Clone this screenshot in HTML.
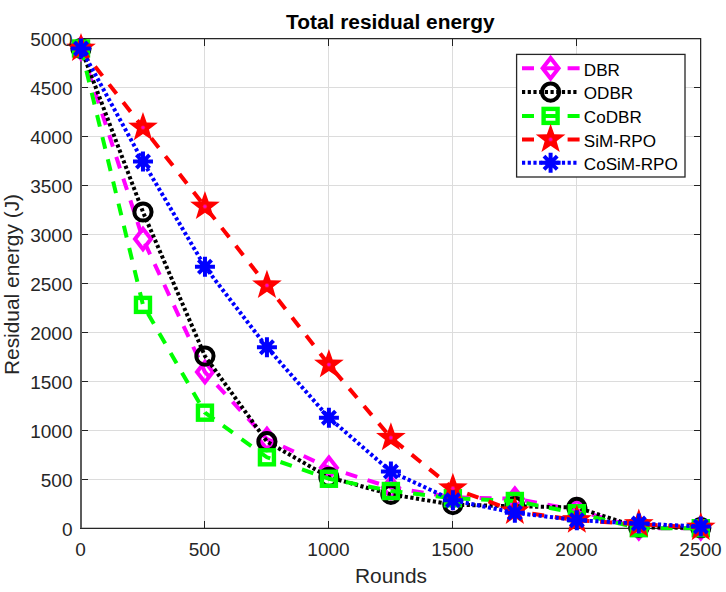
<!DOCTYPE html><html><head><meta charset="utf-8"><style>html,body{margin:0;padding:0;background:#fff;width:726px;height:592px;overflow:hidden}svg{display:block}</style></head><body>
<svg width="726" height="592" viewBox="0 0 726 592" font-family='"Liberation Sans", sans-serif'>
<rect width="726" height="592" fill="#fff"/>
<path d="M204.5 39V528M328.5 39V528M452.5 39V528M576.5 39V528M82 479.5H700M82 430.5H700M82 381.5H700M82 332.5H700M82 283.5H700M82 234.5H700M82 185.5H700M82 136.5H700M82 87.5H700" stroke="#dcdcdc" stroke-width="1" fill="none"/>
<rect x="80" y="38" width="2" height="491" fill="#5c5c5c"/>
<rect x="80" y="38" width="622" height="1" fill="#262626"/>
<rect x="82" y="39" width="618" height="1" fill="#c4c4c4"/>
<rect x="80" y="528" width="622" height="1" fill="#262626"/>
<rect x="82" y="527" width="618" height="1" fill="#c4c4c4"/>
<rect x="700" y="38" width="1" height="491" fill="#262626"/>
<rect x="701" y="38" width="1" height="491" fill="#c4c4c4"/>
<path d="M204.5 528v-7M204.5 39v7M328.5 528v-7M328.5 39v7M452.5 528v-7M452.5 39v7M576.5 528v-7M576.5 39v7M82 479.5h6M700 479.5h-6M82 430.5h6M700 430.5h-6M82 381.5h6M700 381.5h-6M82 332.5h6M700 332.5h-6M82 283.5h6M700 283.5h-6M82 234.5h6M700 234.5h-6M82 185.5h6M700 185.5h-6M82 136.5h6M700 136.5h-6M82 87.5h6M700 87.5h-6" stroke="#222" stroke-width="1" fill="none"/>
<polyline points="81.00,48.49 142.98,239.00 204.96,372.05 266.94,439.01 328.92,467.80 390.90,487.57 452.88,497.26 514.86,498.73 576.84,510.09 638.82,528.20 700.80,528.20" fill="none" stroke="#ff00ff" stroke-width="4.0" stroke-dasharray="12 10.8"/>
<path d="M73.00 48.49L81.00 38.19L89.00 48.49L81.00 58.79Z" fill="none" stroke="#ff00ff" stroke-width="4.0"/>
<path d="M134.98 239.00L142.98 228.70L150.98 239.00L142.98 249.30Z" fill="none" stroke="#ff00ff" stroke-width="4.0"/>
<path d="M196.96 372.05L204.96 361.75L212.96 372.05L204.96 382.35Z" fill="none" stroke="#ff00ff" stroke-width="4.0"/>
<path d="M258.94 439.01L266.94 428.71L274.94 439.01L266.94 449.31Z" fill="none" stroke="#ff00ff" stroke-width="4.0"/>
<path d="M320.92 467.80L328.92 457.50L336.92 467.80L328.92 478.10Z" fill="none" stroke="#ff00ff" stroke-width="4.0"/>
<path d="M382.90 487.57L390.90 477.27L398.90 487.57L390.90 497.87Z" fill="none" stroke="#ff00ff" stroke-width="4.0"/>
<path d="M444.88 497.26L452.88 486.96L460.88 497.26L452.88 507.56Z" fill="none" stroke="#ff00ff" stroke-width="4.0"/>
<path d="M506.86 498.73L514.86 488.43L522.86 498.73L514.86 509.03Z" fill="none" stroke="#ff00ff" stroke-width="4.0"/>
<path d="M568.84 510.09L576.84 499.79L584.84 510.09L576.84 520.39Z" fill="none" stroke="#ff00ff" stroke-width="4.0"/>
<path d="M630.82 528.20L638.82 517.90L646.82 528.20L638.82 538.50Z" fill="none" stroke="#ff00ff" stroke-width="4.0"/>
<path d="M692.80 528.20L700.80 517.90L708.80 528.20L700.80 538.50Z" fill="none" stroke="#ff00ff" stroke-width="4.0"/>
<polyline points="81.00,48.49 142.98,211.98 204.96,356.09 266.94,441.56 328.92,477.29 390.90,494.33 452.88,504.61 514.86,506.27 576.84,507.45 638.82,527.51 700.80,527.71" fill="none" stroke="#000000" stroke-width="4.0" stroke-dasharray="3.2 2.5"/>
<circle cx="81.00" cy="48.49" r="8.6" fill="none" stroke="#000000" stroke-width="4.0"/>
<circle cx="142.98" cy="211.98" r="8.6" fill="none" stroke="#000000" stroke-width="4.0"/>
<circle cx="204.96" cy="356.09" r="8.6" fill="none" stroke="#000000" stroke-width="4.0"/>
<circle cx="266.94" cy="441.56" r="8.6" fill="none" stroke="#000000" stroke-width="4.0"/>
<circle cx="328.92" cy="477.29" r="8.6" fill="none" stroke="#000000" stroke-width="4.0"/>
<circle cx="390.90" cy="494.33" r="8.6" fill="none" stroke="#000000" stroke-width="4.0"/>
<circle cx="452.88" cy="504.61" r="8.6" fill="none" stroke="#000000" stroke-width="4.0"/>
<circle cx="514.86" cy="506.27" r="8.6" fill="none" stroke="#000000" stroke-width="4.0"/>
<circle cx="576.84" cy="507.45" r="8.6" fill="none" stroke="#000000" stroke-width="4.0"/>
<circle cx="638.82" cy="527.51" r="8.6" fill="none" stroke="#000000" stroke-width="4.0"/>
<circle cx="700.80" cy="527.71" r="8.6" fill="none" stroke="#000000" stroke-width="4.0"/>
<polyline points="81.00,48.49 142.98,304.89 204.96,412.68 266.94,457.32 328.92,478.76 390.90,491.00 452.88,498.24 514.86,500.98 576.84,513.22 638.82,528.20 700.80,528.20" fill="none" stroke="#00ff00" stroke-width="4.0" stroke-dasharray="12 10.8"/>
<rect x="74.00" y="41.49" width="14.0" height="14.0" fill="none" stroke="#00ff00" stroke-width="4.4"/>
<rect x="135.98" y="297.89" width="14.0" height="14.0" fill="none" stroke="#00ff00" stroke-width="4.4"/>
<rect x="197.96" y="405.68" width="14.0" height="14.0" fill="none" stroke="#00ff00" stroke-width="4.4"/>
<rect x="259.94" y="450.32" width="14.0" height="14.0" fill="none" stroke="#00ff00" stroke-width="4.4"/>
<rect x="321.92" y="471.76" width="14.0" height="14.0" fill="none" stroke="#00ff00" stroke-width="4.4"/>
<rect x="383.90" y="484.00" width="14.0" height="14.0" fill="none" stroke="#00ff00" stroke-width="4.4"/>
<rect x="445.88" y="491.24" width="14.0" height="14.0" fill="none" stroke="#00ff00" stroke-width="4.4"/>
<rect x="507.86" y="493.98" width="14.0" height="14.0" fill="none" stroke="#00ff00" stroke-width="4.4"/>
<rect x="569.84" y="506.22" width="14.0" height="14.0" fill="none" stroke="#00ff00" stroke-width="4.4"/>
<rect x="631.82" y="521.20" width="14.0" height="14.0" fill="none" stroke="#00ff00" stroke-width="4.4"/>
<rect x="693.80" y="521.20" width="14.0" height="14.0" fill="none" stroke="#00ff00" stroke-width="4.4"/>
<polyline points="81.00,48.49 142.98,127.59 204.96,206.50 266.94,285.41 328.92,364.61 390.90,437.74 452.88,488.26 514.86,511.26 576.84,520.17 638.82,524.19 700.80,527.51" fill="none" stroke="#ff0000" stroke-width="4.0" stroke-dasharray="12 10.8"/>
<polygon points="81.00,32.89 84.70,43.39 95.84,43.67 86.99,50.44 90.17,61.11 81.00,54.79 71.83,61.11 75.01,50.44 66.16,43.67 77.30,43.39" fill="#ff0000"/><circle cx="81.00" cy="48.49" r="2.2" fill="#ff20a0" opacity="0.55"/><circle cx="81.00" cy="48.49" r="1.3" fill="#ff00d0"/>
<polygon points="142.98,111.99 146.68,122.50 157.82,122.77 148.97,129.54 152.15,140.21 142.98,133.89 133.81,140.21 136.99,129.54 128.14,122.77 139.28,122.50" fill="#ff0000"/><circle cx="142.98" cy="127.59" r="2.2" fill="#ff20a0" opacity="0.55"/><circle cx="142.98" cy="127.59" r="1.3" fill="#ff00d0"/>
<polygon points="204.96,190.90 208.66,201.40 219.80,201.68 210.95,208.45 214.13,219.12 204.96,212.80 195.79,219.12 198.97,208.45 190.12,201.68 201.26,201.40" fill="#ff0000"/><circle cx="204.96" cy="206.50" r="2.2" fill="#ff20a0" opacity="0.55"/><circle cx="204.96" cy="206.50" r="1.3" fill="#ff00d0"/>
<polygon points="266.94,269.81 270.64,280.31 281.78,280.59 272.93,287.35 276.11,298.03 266.94,291.71 257.77,298.03 260.95,287.35 252.10,280.59 263.24,280.31" fill="#ff0000"/><circle cx="266.94" cy="285.41" r="2.2" fill="#ff20a0" opacity="0.55"/><circle cx="266.94" cy="285.41" r="1.3" fill="#ff00d0"/>
<polygon points="328.92,349.01 332.62,359.51 343.76,359.79 334.91,366.56 338.09,377.23 328.92,370.91 319.75,377.23 322.93,366.56 314.08,359.79 325.22,359.51" fill="#ff0000"/><circle cx="328.92" cy="364.61" r="2.2" fill="#ff20a0" opacity="0.55"/><circle cx="328.92" cy="364.61" r="1.3" fill="#ff00d0"/>
<polygon points="390.90,422.14 394.60,432.64 405.74,432.92 396.89,439.69 400.07,450.36 390.90,444.04 381.73,450.36 384.91,439.69 376.06,432.92 387.20,432.64" fill="#ff0000"/><circle cx="390.90" cy="437.74" r="2.2" fill="#ff20a0" opacity="0.55"/><circle cx="390.90" cy="437.74" r="1.3" fill="#ff00d0"/>
<polygon points="452.88,472.66 456.58,483.16 467.72,483.44 458.87,490.20 462.05,500.88 452.88,494.56 443.71,500.88 446.89,490.20 438.04,483.44 449.18,483.16" fill="#ff0000"/><circle cx="452.88" cy="488.26" r="2.2" fill="#ff20a0" opacity="0.55"/><circle cx="452.88" cy="488.26" r="1.3" fill="#ff00d0"/>
<polygon points="514.86,495.66 518.56,506.17 529.70,506.44 520.85,513.21 524.03,523.88 514.86,517.56 505.69,523.88 508.87,513.21 500.02,506.44 511.16,506.17" fill="#ff0000"/><circle cx="514.86" cy="511.26" r="2.2" fill="#ff20a0" opacity="0.55"/><circle cx="514.86" cy="511.26" r="1.3" fill="#ff00d0"/>
<polygon points="576.84,504.57 580.54,515.08 591.68,515.35 582.83,522.12 586.01,532.79 576.84,526.47 567.67,532.79 570.85,522.12 562.00,515.35 573.14,515.08" fill="#ff0000"/><circle cx="576.84" cy="520.17" r="2.2" fill="#ff20a0" opacity="0.55"/><circle cx="576.84" cy="520.17" r="1.3" fill="#ff00d0"/>
<polygon points="638.82,508.59 642.52,519.09 653.66,519.37 644.81,526.13 647.99,536.81 638.82,530.49 629.65,536.81 632.83,526.13 623.98,519.37 635.12,519.09" fill="#ff0000"/><circle cx="638.82" cy="524.19" r="2.2" fill="#ff20a0" opacity="0.55"/><circle cx="638.82" cy="524.19" r="1.3" fill="#ff00d0"/>
<polygon points="700.80,511.91 704.50,522.42 715.64,522.69 706.79,529.46 709.97,540.14 700.80,533.81 691.63,540.14 694.81,529.46 685.96,522.69 697.10,522.42" fill="#ff0000"/><circle cx="700.80" cy="527.51" r="2.2" fill="#ff20a0" opacity="0.55"/><circle cx="700.80" cy="527.51" r="1.3" fill="#ff00d0"/>
<polyline points="81.00,48.49 142.98,161.56 204.96,266.81 266.94,347.28 328.92,417.67 390.90,471.61 452.88,500.20 514.86,512.83 576.84,520.17 638.82,523.60 700.80,526.44" fill="none" stroke="#0000ff" stroke-width="4.0" stroke-dasharray="3.2 2.5"/>
<path d="M71.00 48.49H91.00M81.00 38.49V58.49M74.40 41.89L87.60 55.09M74.40 55.09L87.60 41.89" fill="none" stroke="#0000ff" stroke-width="4.0"/>
<path d="M132.98 161.56H152.98M142.98 151.56V171.56M136.38 154.96L149.58 168.16M136.38 168.16L149.58 154.96" fill="none" stroke="#0000ff" stroke-width="4.0"/>
<path d="M194.96 266.81H214.96M204.96 256.81V276.81M198.36 260.21L211.56 273.41M198.36 273.41L211.56 260.21" fill="none" stroke="#0000ff" stroke-width="4.0"/>
<path d="M256.94 347.28H276.94M266.94 337.28V357.28M260.34 340.68L273.54 353.88M260.34 353.88L273.54 340.68" fill="none" stroke="#0000ff" stroke-width="4.0"/>
<path d="M318.92 417.67H338.92M328.92 407.67V427.67M322.32 411.07L335.52 424.27M322.32 424.27L335.52 411.07" fill="none" stroke="#0000ff" stroke-width="4.0"/>
<path d="M380.90 471.61H400.90M390.90 461.61V481.61M384.30 465.01L397.50 478.21M384.30 478.21L397.50 465.01" fill="none" stroke="#0000ff" stroke-width="4.0"/>
<path d="M442.88 500.20H462.88M452.88 490.20V510.20M446.28 493.60L459.48 506.80M446.28 506.80L459.48 493.60" fill="none" stroke="#0000ff" stroke-width="4.0"/>
<path d="M504.86 512.83H524.86M514.86 502.83V522.83M508.26 506.23L521.46 519.43M508.26 519.43L521.46 506.23" fill="none" stroke="#0000ff" stroke-width="4.0"/>
<path d="M566.84 520.17H586.84M576.84 510.17V530.17M570.24 513.57L583.44 526.77M570.24 526.77L583.44 513.57" fill="none" stroke="#0000ff" stroke-width="4.0"/>
<path d="M628.82 523.60H648.82M638.82 513.60V533.60M632.22 517.00L645.42 530.20M632.22 530.20L645.42 517.00" fill="none" stroke="#0000ff" stroke-width="4.0"/>
<path d="M690.80 526.44H710.80M700.80 516.44V536.44M694.20 519.84L707.40 533.04M694.20 533.04L707.40 519.84" fill="none" stroke="#0000ff" stroke-width="4.0"/>
<g fill="#262626" font-size="19">
<text x="80.5" y="556" text-anchor="middle">0</text>
<text x="204.5" y="556" text-anchor="middle">500</text>
<text x="328.5" y="556" text-anchor="middle">1000</text>
<text x="452.5" y="556" text-anchor="middle">1500</text>
<text x="576.5" y="556" text-anchor="middle">2000</text>
<text x="700.5" y="556" text-anchor="middle">2500</text>
<text x="72.5" y="536.3" text-anchor="end">0</text>
<text x="72.5" y="487.3" text-anchor="end">500</text>
<text x="72.5" y="438.3" text-anchor="end">1000</text>
<text x="72.5" y="389.3" text-anchor="end">1500</text>
<text x="72.5" y="340.3" text-anchor="end">2000</text>
<text x="72.5" y="291.3" text-anchor="end">2500</text>
<text x="72.5" y="242.3" text-anchor="end">3000</text>
<text x="72.5" y="193.3" text-anchor="end">3500</text>
<text x="72.5" y="144.3" text-anchor="end">4000</text>
<text x="72.5" y="95.3" text-anchor="end">4500</text>
<text x="72.5" y="46.3" text-anchor="end">5000</text>
</g>
<text x="391" y="583.3" text-anchor="middle" font-size="20.9" fill="#262626">Rounds</text>
<text transform="translate(18.5 284.5) rotate(-90)" text-anchor="middle" font-size="20.9" fill="#262626">Residual energy (J)</text>
<text x="390.3" y="29" text-anchor="middle" font-size="20.9" font-weight="bold" fill="#000">Total residual energy</text>
<rect x="516.6" y="54.4" width="168.39999999999998" height="122.6" fill="#fff" stroke="#262626" stroke-width="1.3"/>
<path d="M522 68.3H580" stroke="#ff00ff" stroke-width="4.0" stroke-dasharray="12 10.8" fill="none"/>
<path d="M542.60 68.30L550.60 58.00L558.60 68.30L550.60 78.60Z" fill="none" stroke="#ff00ff" stroke-width="4.0"/>
<text x="583.8" y="75.5" font-size="17.1" fill="#000">DBR</text>
<path d="M522 92.1H576.6" stroke="#000000" stroke-width="4.0" stroke-dasharray="3.2 2.5" fill="none"/>
<circle cx="550.60" cy="92.10" r="8.6" fill="none" stroke="#000000" stroke-width="4.0"/>
<text x="583.8" y="99.3" font-size="17.1" fill="#000">ODBR</text>
<path d="M522 115.9H580" stroke="#00ff00" stroke-width="4.0" stroke-dasharray="12 10.8" fill="none"/>
<rect x="543.60" y="108.90" width="14.0" height="14.0" fill="none" stroke="#00ff00" stroke-width="4.4"/>
<text x="583.8" y="123.1" font-size="17.1" fill="#000">CoDBR</text>
<path d="M522 139.4H580" stroke="#ff0000" stroke-width="4.0" stroke-dasharray="12 10.8" fill="none"/>
<polygon points="550.60,123.80 554.30,134.30 565.44,134.58 556.59,141.35 559.77,152.02 550.60,145.70 541.43,152.02 544.61,141.35 535.76,134.58 546.90,134.30" fill="#ff0000"/><circle cx="550.60" cy="139.40" r="2.2" fill="#ff20a0" opacity="0.55"/><circle cx="550.60" cy="139.40" r="1.3" fill="#ff00d0"/>
<text x="583.8" y="146.6" font-size="17.1" fill="#000">SiM-RPO</text>
<path d="M522 162.8H576.6" stroke="#0000ff" stroke-width="4.0" stroke-dasharray="3.2 2.5" fill="none"/>
<path d="M540.60 162.80H560.60M550.60 152.80V172.80M544.00 156.20L557.20 169.40M544.00 169.40L557.20 156.20" fill="none" stroke="#0000ff" stroke-width="4.0"/>
<text x="583.8" y="170.0" font-size="17.1" fill="#000">CoSiM-RPO</text>
</svg></body></html>
